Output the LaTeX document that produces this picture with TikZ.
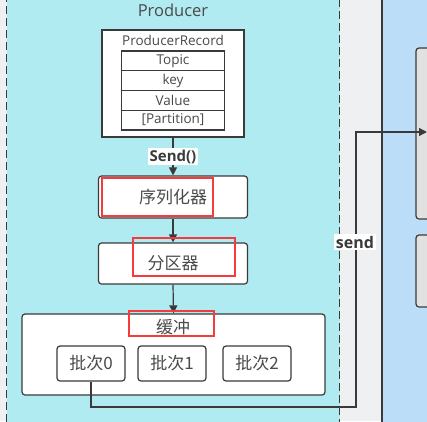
\documentclass[tikz,border=0pt]{standalone}
\usepackage{fontspec}
\setmainfont{Open Sans}
\newfontfamily\cjk{Noto Sans CJK SC}
\usetikzlibrary{arrows.meta}
\definecolor{bggray}{HTML}{EFF0F2}
\definecolor{prodcyan}{HTML}{B1EBF2}
\definecolor{brokerblue}{HTML}{BCDDF8}
\definecolor{linec}{HTML}{3A3A3A}
\definecolor{txt}{HTML}{4A4A4A}
\definecolor{hl}{HTML}{F53B3B}
\definecolor{rboxfill}{HTML}{E1E1E1}
\begin{document}
\begin{tikzpicture}[x=1pt,y=-1pt,
  rbox/.style={draw=linec, line width=1.2pt, fill=white, rounded corners=3pt, inner sep=0pt, text=txt,
    font=\cjk\fontsize{17}{20}\selectfont},
  cell/.style={draw=linec, line width=1.2pt, fill=white, inner sep=0pt, minimum width=103pt, minimum height=19.75pt,
    text=txt, font=\fontsize{13.5}{16}\selectfont},
  conn/.style={draw=linec, line width=1.2pt, -{Triangle[length=8pt,width=8pt]}},
  lbl/.style={fill=white, inner sep=1.5pt, text=linec, font=\bfseries\fontsize{15}{18}\selectfont},
  hlbox/.style={draw=hl, line width=2pt},
  side/.style={draw=linec, line width=1.2pt, fill=rboxfill, rounded corners=3pt}
]
\useasboundingbox (0,0) rectangle (427,421);
% backgrounds
\fill[bggray] (0,0) rectangle (427,421);
\fill[brokerblue] (382,-5) rectangle (432,426);
\draw[linec, line width=1.2pt] (382,-5) -- (382,426);
\draw[linec, line width=1.5pt, fill=prodcyan, dash pattern=on 8pt off 4pt] (6.5,-6) rectangle (339.5,428);
% right side boxes
\draw[side] (416,48) rectangle (445,219);
\draw[side] (416,235) rectangle (445,307);
% title
\node[text=txt, font=\fontsize{16.5}{19}\selectfont] (title) at (173,10) {Producer};
% ProducerRecord
\node[draw=linec, line width=1.3pt, fill=white, minimum width=142pt, minimum height=107pt, inner sep=0pt] (rec) at (173,83.5) {};
\node[text=txt, font=\fontsize{13.5}{16}\selectfont] (rectitle) at (173,40) {ProducerRecord};
\node[cell] (topic) at (173,60.9) {Topic};
\node[cell] (key) at (173,80.6) {key};
\node[cell] (value) at (173,100.4) {Value};
\node[cell] (part) at (173,120.1) {[Partition]};
% pipeline
\node[rbox, minimum width=149pt, minimum height=42pt] (ser) at (173,197) {序列化器};
\node[rbox, minimum width=149pt, minimum height=41pt] (pt) at (173,263.5) {分区器};
\node[rbox, minimum width=303pt, minimum height=81pt] (buf) at (173.5,354.5) {};
\node[text=txt, font=\cjk\fontsize{17}{20}\selectfont, inner sep=0pt] (buftitle) at (173,327) {缓冲};
\node[rbox, minimum width=68pt, minimum height=35pt] (b0) at (91,363.5) {批次0};
\node[rbox, minimum width=68pt, minimum height=35pt] (b1) at (172,363.5) {批次1};
\node[rbox, minimum width=68pt, minimum height=35pt] (b2) at (257,363.5) {批次2};
% connectors
\draw[conn] (rec.south) -- node[lbl] (sendlbl) {Send()} (ser.north);
\draw[conn] (ser.south) -- (pt.north);
\draw[conn] (pt.south) -- (buf.north);
\coordinate (c1) at (356,407);
\coordinate (c2) at (356,132);
\coordinate (sendend) at (427,132);
\draw[conn] (b0.south) |- (c1) -- (c2) -- (sendend);
\node[lbl, font=\bfseries\fontsize{16}{19}\selectfont] (sendtxt) at (355,242) {send};
% highlights
\draw[hlbox] (102,178) rectangle (213,216);
\draw[hlbox] (133,238) rectangle (235,276);
\draw[hlbox] (129,311) rectangle (214,336);
\end{tikzpicture}
\end{document}
